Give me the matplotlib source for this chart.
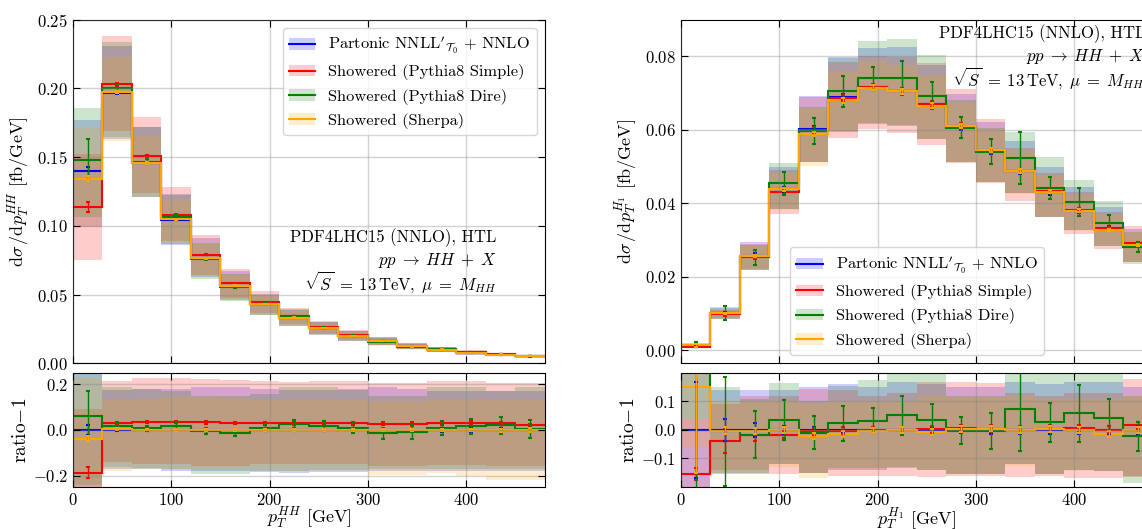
import numpy as np
import matplotlib.pyplot as plt
from matplotlib.patches import Patch
from matplotlib.lines import Line2D

plt.rcParams['font.family'] = 'serif'
plt.rcParams['font.serif'] = ['cmr10']
plt.rcParams['mathtext.fontset'] = 'cm'
plt.rcParams['axes.formatter.use_mathtext'] = True

# bin edges [GeV]
edges = [0, 30, 60, 90, 120, 150, 180, 210, 240, 270, 300, 330, 360, 390, 420, 450, 480]

labels = [r"Partonic $\mathrm{NNLL}'_{\mathcal{T}_0}\,+\,\mathrm{NNLO}$",
          "Showered (Pythia8 Simple)",
          "Showered (Pythia8 Dire)",
          "Showered (Sherpa)"]
colors = ['blue', 'red', 'green', 'orange']

# ---- p_T^HH : partonic central value [fb/GeV]
hh_central = [0.1396, 0.1965, 0.1455, 0.1045, 0.0763, 0.0565, 0.0430, 0.0333, 0.0255, 0.0200,
              0.0160, 0.0123, 0.0100, 0.0078, 0.0064, 0.0051]
# ratio - 1 w.r.t. partonic
hh_simple_r = [-0.187, 0.032, 0.036, 0.035, 0.033, 0.032, 0.029, 0.030, 0.032, 0.030, 0.0275, 0.026, 0.029, 0.030, 0.029, 0.020]
hh_dire_r = [0.061, 0.017, 0.007, 0.016, -0.004, -0.013, 0.010, 0.026, 0.017, 0.009, -0.014, -0.007, 0.009, 0.016, 0.020, 0.006]
hh_sherpa_r = [-0.038, 0.003, 0.002, 0.001, 0.001, 0.0, 0.001, 0.0, 0.0, 0.0, -0.001, 0.0, 0.0, 0.0, -0.002, 0.0]
# statistical errors (relative to partonic)
hh_partonic_e = [0.022, 0.005, 0.004, 0.004, 0.004, 0.004, 0.005, 0.005, 0.005, 0.006, 0.006, 0.006, 0.007, 0.007, 0.008, 0.008]
hh_simple_e = [0.025, 0.005, 0.005, 0.005, 0.005, 0.005, 0.006, 0.006, 0.006, 0.006, 0.006, 0.007, 0.007, 0.008, 0.008, 0.008]
hh_dire_e = [0.11, 0.015, 0.012, 0.015, 0.012, 0.012, 0.015, 0.018, 0.022, 0.020, 0.024, 0.033, 0.030, 0.034, 0.037, 0.040]
hh_sherpa_e = [0.012, 0.004, 0.004, 0.004, 0.004, 0.004, 0.004, 0.005, 0.005, 0.005, 0.005, 0.006, 0.006, 0.006, 0.007, 0.007]
# scale uncertainty bands (relative to partonic)
hh_partonic_hi = [0.27, 0.175, 0.18, 0.18, 0.19, 0.19, 0.18, 0.175, 0.175, 0.18, 0.19, 0.18, 0.17, 0.17, 0.17, 0.17]
hh_partonic_lo = [-0.29, -0.17, -0.17, -0.178, -0.18, -0.18, -0.185, -0.19, -0.185, -0.185, -0.18, -0.18, -0.18, -0.18, -0.18, -0.18]
hh_simple_hi = [0.09, 0.213, 0.23, 0.23, 0.225, 0.22, 0.215, 0.21, 0.213, 0.213, 0.206, 0.206, 0.213, 0.213, 0.206, 0.206]
hh_simple_lo = [-0.46, -0.142, -0.15, -0.15, -0.156, -0.156, -0.15, -0.15, -0.15, -0.15, -0.16, -0.16, -0.155, -0.155, -0.16, -0.16]
hh_dire_hi = [0.33, 0.19, 0.18, 0.17, 0.15, 0.15, 0.16, 0.19, 0.19, 0.175, 0.15, 0.15, 0.19, 0.19, 0.17, 0.19]
hh_dire_lo = [-0.24, -0.164, -0.168, -0.17, -0.193, -0.193, -0.18, -0.18, -0.175, -0.175, -0.17, -0.17, -0.17, -0.17, -0.17, -0.17]
hh_sherpa_hi = [0.23, 0.133, 0.138, 0.143, 0.143, 0.14, 0.133, 0.133, 0.133, 0.133, 0.126, 0.126, 0.133, 0.133, 0.133, 0.133]
hh_sherpa_lo = [-0.29, -0.178, -0.17, -0.17, -0.17, -0.17, -0.175, -0.18, -0.18, -0.18, -0.196, -0.196, -0.19, -0.2, -0.22, -0.22]

# ---- p_T^H1 : partonic central value [fb/GeV]
h1_central = [0.0011, 0.0101, 0.0257, 0.0438, 0.0602, 0.0689, 0.0716, 0.0705, 0.0669, 0.0607,
              0.0541, 0.0487, 0.0430, 0.0380, 0.0332, 0.0287]
h1_simple_r = [-0.155, -0.037, -0.017, -0.016, -0.005, -0.003, 0.0, 0.0, 0.002, 0.007, 0.005, 0.001, 0.005, 0.006, 0.001, 0.016]
h1_dire_r = [0.35, -0.005, -0.017, 0.036, -0.010, 0.023, 0.033, 0.051, 0.036, -0.002, -0.002, 0.072, 0.027, 0.058, 0.043, -0.022]
h1_sherpa_r = [0.15, -0.003, -0.003, 0.0, -0.022, -0.013, -0.002, 0.0, -0.006, 0.004, 0.005, 0.0, 0.003, 0.0, -0.014, 0.0]
h1_partonic_e = [0.17, 0.04, 0.025, 0.015, 0.012, 0.012, 0.012, 0.012, 0.012, 0.012, 0.015, 0.015, 0.015, 0.015, 0.015, 0.015]
h1_simple_e = [0.02, 0.045, 0.02, 0.012, 0.012, 0.012, 0.012, 0.012, 0.012, 0.012, 0.012, 0.012, 0.012, 0.012, 0.012, 0.012]
h1_dire_e = [0.6, 0.19, 0.082, 0.07, 0.058, 0.062, 0.043, 0.067, 0.055, 0.048, 0.063, 0.145, 0.069, 0.10, 0.066, 0.05]
h1_sherpa_e = [0.3, 0.012, 0.01, 0.01, 0.01, 0.01, 0.01, 0.01, 0.01, 0.01, 0.01, 0.01, 0.01, 0.01, 0.01, 0.01]
h1_partonic_hi = [0.50, 0.14, 0.14, 0.14, 0.15, 0.16, 0.15, 0.17, 0.16, 0.15, 0.15, 0.17, 0.16, 0.17, 0.17, 0.15]
h1_partonic_lo = [-0.50, -0.15, -0.15, -0.12, -0.15, -0.14, -0.14, -0.135, -0.14, -0.155, -0.155, -0.12, -0.155, -0.14, -0.145, -0.16]
h1_simple_hi = [0.04, 0.09, 0.12, 0.12, 0.145, 0.14, 0.12, 0.13, 0.17, 0.17, 0.165, 0.13, 0.12, 0.13, 0.13, 0.18]
h1_simple_lo = [-0.50, -0.14, -0.14, -0.155, -0.15, -0.16, -0.16, -0.16, -0.165, -0.16, -0.16, -0.165, -0.16, -0.17, -0.17, -0.165]
h1_dire_hi = [0.80, 0.15, 0.11, 0.166, 0.10, 0.155, 0.175, 0.20, 0.20, 0.12, 0.12, 0.22, 0.22, 0.22, 0.22, 0.12]
h1_dire_lo = [0.04, -0.155, -0.155, -0.12, -0.15, -0.135, -0.135, -0.13, -0.14, -0.155, -0.155, -0.12, -0.155, -0.14, -0.145, -0.185]
h1_sherpa_hi = [0.50, 0.10, 0.10, 0.10, 0.095, 0.10, 0.10, 0.10, 0.12, 0.115, 0.115, 0.12, 0.11, 0.11, 0.11, 0.12]
h1_sherpa_lo = [-0.06, -0.155, -0.155, -0.13, -0.167, -0.14, -0.14, -0.135, -0.14, -0.155, -0.155, -0.125, -0.155, -0.145, -0.145, -0.165]

info = ["PDF4LHC15 (NNLO), HTL",
        r"$pp\;\to\;HH\;+\;X$",
        r"$\sqrt{S}\;=\;13\,\mathrm{TeV},\;\mu\;=\;M_{HH}$"]

edges = np.array(edges)
mids = 0.5 * (edges[:-1] + edges[1:])


def draw(ax, axr, central, ratios, errs, los, his):
    central = np.array(central)
    # bands
    for c, lo, hi in zip(colors, los, his):
        lo, hi = np.array(lo), np.array(hi)
        ax.stairs(central * (1 + hi), edges, baseline=central * (1 + lo), fill=True, color=c, alpha=0.2, lw=0)
        axr.stairs(hi, edges, baseline=lo, fill=True, color=c, alpha=0.2, lw=0)
    # central lines
    for c, r in zip(colors, ratios):
        r = np.array(r)
        ax.stairs(central * (1 + r), edges, baseline=None, color=c, lw=1.5)
        axr.stairs(r, edges, baseline=None, color=c, lw=1.5)
    # stat errors
    for c, r, e in zip(colors, ratios, errs):
        r, e = np.array(r), np.array(e)
        ax.errorbar(mids, central * (1 + r), yerr=central * e, fmt='none', ecolor=c,
                    elinewidth=1, capsize=1.5, capthick=1.5)
        axr.errorbar(mids, r, yerr=e, fmt='none', ecolor=c, elinewidth=1, capsize=1.5, capthick=1.5)
    for a in (ax, axr):
        a.set_xlim(0, 480)
        a.set_xticks([0, 100, 200, 300, 400])
        a.tick_params(direction='in', top=True, right=True, length=5, labelsize=12)
        a.grid(True, color='gray', alpha=0.35, lw=1)
        a.set_axisbelow(False)
    ax.tick_params(labelbottom=False)
    axr.set_ylabel(r"ratio$-1$", fontsize=14, labelpad=2)


fig = plt.figure(figsize=(11.42, 5.29), dpi=100)
ax1 = fig.add_axes([0.0639, 0.3132, 0.4133, 0.6499])
ax1r = fig.add_axes([0.0639, 0.0794, 0.4133, 0.2155])
ax2 = fig.add_axes([0.5963, 0.3132, 0.4133, 0.6499])
ax2r = fig.add_axes([0.5963, 0.0794, 0.4133, 0.2155])

zero = np.zeros(len(hh_central))
draw(ax1, ax1r, hh_central,
     [zero, hh_simple_r, hh_dire_r, hh_sherpa_r],
     [hh_partonic_e, hh_simple_e, hh_dire_e, hh_sherpa_e],
     [hh_partonic_lo, hh_simple_lo, hh_dire_lo, hh_sherpa_lo],
     [hh_partonic_hi, hh_simple_hi, hh_dire_hi, hh_sherpa_hi])
draw(ax2, ax2r, h1_central,
     [zero, h1_simple_r, h1_dire_r, h1_sherpa_r],
     [h1_partonic_e, h1_simple_e, h1_dire_e, h1_sherpa_e],
     [h1_partonic_lo, h1_simple_lo, h1_dire_lo, h1_sherpa_lo],
     [h1_partonic_hi, h1_simple_hi, h1_dire_hi, h1_sherpa_hi])

ax1.set_ylim(0, 0.25)
ax1r.set_ylim(-0.25, 0.25)
ax2.set_ylim(-0.0036, 0.090)
ax2r.set_ylim(-0.2, 0.2)
ax2r.set_yticks([-0.1, 0.0, 0.1])

ax1.set_ylabel(r"$\mathrm{d}\sigma\,/\mathrm{d}p_T^{HH}$ $[\mathrm{fb}/\mathrm{GeV}]$", fontsize=13)
ax2.set_ylabel(r"$\mathrm{d}\sigma\,/\mathrm{d}p_T^{H_1}$ $[\mathrm{fb}/\mathrm{GeV}]$", fontsize=13)
ax1r.set_xlabel(r"$p_T^{HH}$ $[\mathrm{GeV}]$", fontsize=13, labelpad=-1.6)
ax2r.set_xlabel(r"$p_T^{H_1}$ $[\mathrm{GeV}]$", fontsize=13, labelpad=-1.6)

# process info, one text per line (baselines)
for line, y in zip(info, [0.352, 0.287, 0.216]):
    ax1.text(0.898, y, line, transform=ax1.transAxes, ha='right', va='baseline', fontsize=12)
for line, y in zip(info, [0.945, 0.880, 0.809]):
    ax2.text(0.983, y, line, transform=ax2.transAxes, ha='right', va='baseline', fontsize=12)

handles = [(Patch(facecolor=c, alpha=0.2), Line2D([], [], color=c, lw=1.5)) for c in colors]
ax1.legend(handles, labels, loc='upper right', fontsize=11.8, handlelength=1.6, labelspacing=0.5)
ax2.legend(handles, labels, loc='lower center', fontsize=11.8, handlelength=1.6, labelspacing=0.5)

fig.savefig('out.png', dpi=100)
